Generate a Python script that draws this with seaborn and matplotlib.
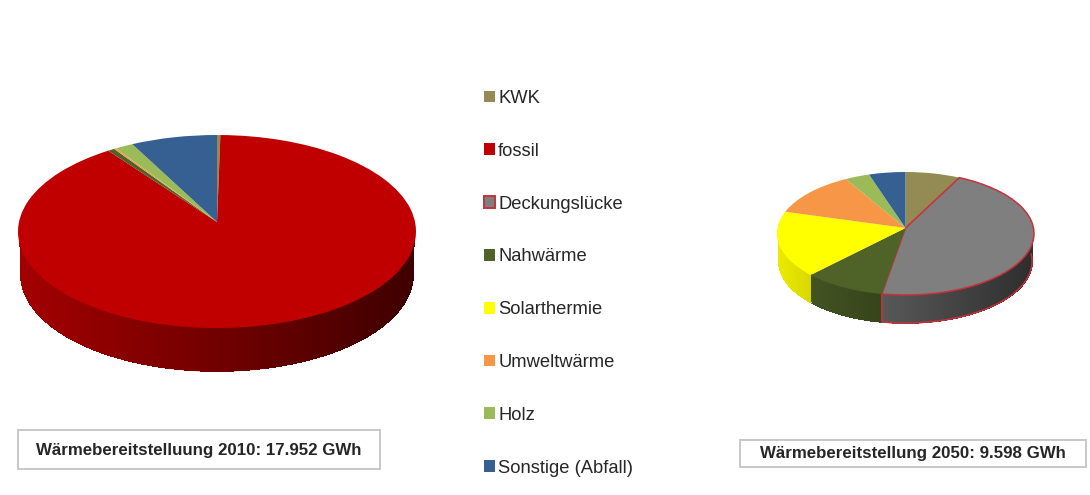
import numpy as np
import matplotlib
matplotlib.use("Agg")
import matplotlib.pyplot as plt
import matplotlib.transforms as mtransforms
from matplotlib.collections import LineCollection, PolyCollection
from matplotlib.colors import to_rgb
from matplotlib.patches import Patch, Rectangle
import seaborn as sns

# ---------- data (percent shares, clockwise from 12 o'clock)
categories = ["KWK", "fossil", "Deckungslücke", "Nahwärme", "Solarthermie",
              "Umweltwärme", "Holz", "Sonstige (Abfall)"]
shares_2010 = [0.3, 89.6, 0.0, 0.6, 0.0, 0.2, 1.6, 7.7]
shares_2050 = [7.5, 0.0, 45.2, 9.5, 17.2, 12.2, 3.4, 5.0]
title_2010 = "Wärmebereitstelluung 2010: 17.952 GWh"
title_2050 = "Wärmebereitstellung 2050: 9.598 GWh"

# ---------- style
palette = ["#948a54", "#c00000", "#7f7f7f", "#4f6228",
           "#ffff00", "#f79646", "#9bbb59", "#366092"]
GAP_EDGE = "#c8303c"
TEXT = "#262626"

sns.set_theme(style="white", palette=palette)
plt.rcParams["font.family"] = ["Liberation Sans", "DejaVu Sans"]


class Perspective(mtransforms.Transform):
    """Tilted view of the unit-circle pie, mapped to the figure's pixel scale."""
    input_dims = output_dims = 2
    is_separable = False
    has_inverse = False

    def __init__(self, cx, cy, half_width, up, down):
        super().__init__()
        self.cx, self.cy = cx, cy
        self.c = (down - up) / (down + up)
        self.a = up * (1 + self.c)
        self.d = half_width * np.sqrt(1 - self.c ** 2)

    def transform_non_affine(self, values):
        values = np.asarray(values, dtype=float)
        w = 1 + self.c * values[:, 1]
        return np.column_stack([self.cx + self.d * values[:, 0] / w,
                                self.cy - self.a * values[:, 1] / w])


def pie3d(ax, shares, persp, depth, narrow, shade, edged=()):
    wedges, _ = ax.pie(shares, colors=palette, startangle=90, counterclock=False,
                       radius=1, wedgeprops=dict(linewidth=0))
    quads, cols, keys, rims, outlines = [], [], [], [], []
    half = persp.transform_non_affine(np.array([[1.0, 0.0]]))[0, 0] - persp.cx
    for i, wedge in enumerate(wedges):
        wedge.set_transform(persp + ax.transData)
        wedge.set_zorder(5)
        if shares[i] <= 0:
            continue
        if categories[i] in edged:
            wedge.set_edgecolor(GAP_EDGE)
            wedge.set_linewidth(1.1)
            wedge.set_joinstyle("round")
        base = np.array(to_rgb(palette[i]))
        n = max(2, int((wedge.theta2 - wedge.theta1) / 0.8) + 1)
        th = np.radians(np.linspace(wedge.theta1, wedge.theta2, n))
        unit = np.column_stack([np.cos(th), np.sin(th)])
        top = persp.transform_non_affine(unit)
        inner = persp.transform_non_affine(unit * 0.99)
        bottom = np.column_stack([persp.cx + (top[:, 0] - persp.cx) * narrow,
                                  top[:, 1] + depth])
        for k in range(n - 1):
            vmid = 0.5 * (unit[k, 1] + unit[k + 1, 1])
            if vmid > 0.14:
                continue
            xrel = (0.5 * (top[k, 0] + top[k + 1, 0]) - persp.cx) / half
            f = shade[0] + (shade[1] - shade[0]) * (xrel + 1) / 2
            quads.append([inner[k], inner[k + 1], bottom[k + 1], bottom[k]])
            cols.append(base * f)
            keys.append(-vmid)
            rims.append([bottom[k], bottom[k + 1]])
        if categories[i] in edged:
            low = unit[:, 1] < 0.05
            outlines.append(bottom[low])
            outlines.append(np.array([top[0], bottom[0]]))
    order = np.argsort(keys)
    sorted_cols = [cols[j] for j in order]
    ax.add_collection(PolyCollection([quads[j] for j in order],
                                     facecolors=sorted_cols, edgecolors=sorted_cols,
                                     linewidths=0.5, antialiaseds=False, zorder=2))
    ax.add_collection(LineCollection([rims[j] for j in order], colors=sorted_cols,
                                     linewidths=0.9, zorder=2.5))
    for line in outlines:
        ax.plot(line[:, 0], line[:, 1], color=GAP_EDGE, lw=1.1, zorder=3)


fig = plt.figure(figsize=(10.9, 4.95), dpi=100, facecolor="white")
ax = fig.add_axes([0, 0, 1, 1])

pie3d(ax, shares_2010, Perspective(217, 222, 199, 87, 106), depth=43, narrow=0.985,
      shade=(0.85, 0.33))
pie3d(ax, shares_2050, Perspective(905.5, 228, 128.5, 56, 67), depth=28, narrow=0.985,
      shade=(0.92, 0.36), edged=("Deckungslücke",))

ax.set_aspect("auto")
ax.set_xlim(0, 1090)
ax.set_ylim(495, 0)
ax.set_axis_off()

# caption boxes
for (x0, y0, w, h, txt, size) in [(17.5, 430, 362.5, 39, title_2010, 12.15),
                                  (740, 440, 346, 26.5, title_2050, 12.15)]:
    ax.add_patch(Rectangle((x0, y0), w, h, facecolor="white", edgecolor="#c8c8c8",
                           linewidth=1.4, zorder=6))
    ax.text(x0 + w / 2, y0 + h / 2 + 0.5, txt, ha="center", va="center", fontsize=size,
            fontweight="bold", color=TEXT, zorder=7)

# legend
handles = []
for name, col in zip(categories, palette):
    if name == "Deckungslücke":
        handles.append(Patch(facecolor=col, edgecolor=GAP_EDGE, linewidth=1.4, label=name))
    else:
        handles.append(Patch(facecolor=col, edgecolor="none", label=name))
leg = ax.legend(handles=handles, loc="upper left",
                bbox_to_anchor=(484 / 1090, 1 - 90 / 495), frameon=False,
                fontsize=13.25, labelcolor=TEXT, borderpad=0, borderaxespad=0,
                handlelength=0.6, handleheight=0.6, handletextpad=0.17,
                labelspacing=1.945)

fig.savefig("out.png", dpi=100, facecolor="white")
